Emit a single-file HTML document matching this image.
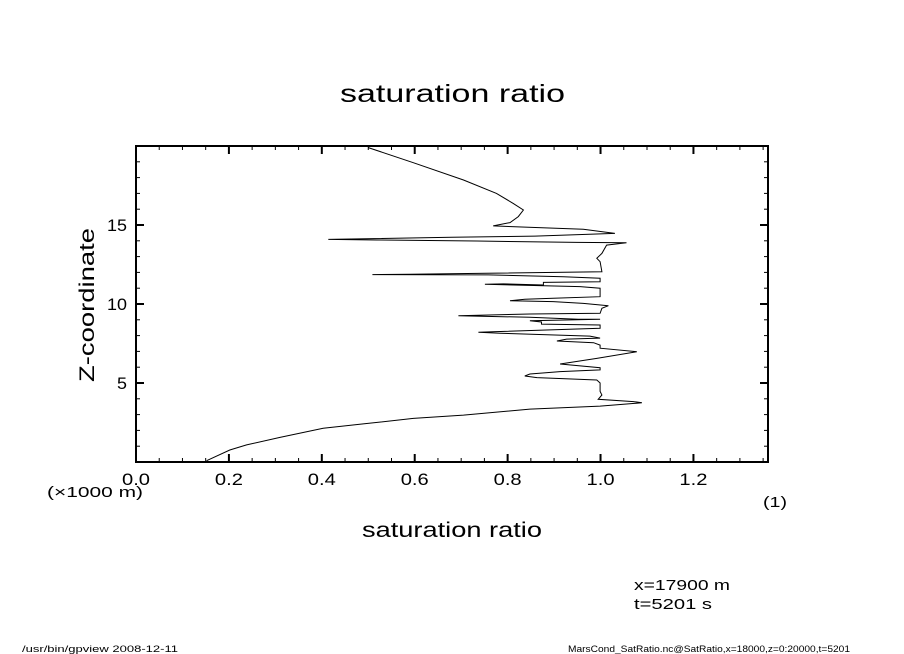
<!DOCTYPE html>
<html><head><meta charset="utf-8"><style>
html,body{margin:0;padding:0;background:#fff;}
svg{display:block;font-family:"Liberation Sans",sans-serif;}
</style></head><body>
<svg id="chart" width="904" height="654" viewBox="0 0 904 654">
<text x="340" y="102" font-size="25" textLength="225" lengthAdjust="spacingAndGlyphs">saturation ratio</text>
<g id="axes"></g>
<text x="362" y="537" font-size="21" textLength="180" lengthAdjust="spacingAndGlyphs">saturation ratio</text>
<text transform="translate(94,382) rotate(-90)" font-size="21" textLength="154" lengthAdjust="spacingAndGlyphs">Z-coordinate</text>
<text x="47" y="497" font-size="15" textLength="96" lengthAdjust="spacingAndGlyphs">(×1000 m)</text>
<text x="763" y="507" font-size="15" textLength="24" lengthAdjust="spacingAndGlyphs">(1)</text>
<text x="634" y="590" font-size="15" textLength="96" lengthAdjust="spacingAndGlyphs">x=17900 m</text>
<text x="634" y="609" font-size="15" textLength="78" lengthAdjust="spacingAndGlyphs">t=5201 s</text>
<text x="22" y="652" font-size="9" textLength="156" lengthAdjust="spacingAndGlyphs">/usr/bin/gpview   2008-12-11</text>
<text x="568" y="652" font-size="9" textLength="282" lengthAdjust="spacingAndGlyphs">MarsCond_SatRatio.nc@SatRatio,x=18000,z=0:20000,t=5201</text>
</svg>
<script>
const zValues=[19.9,18.94,17.85,17.0,16.37,15.95,15.53,15.15,14.94,14.73,14.47,14.30,14.22,14.09,14.05,13.99,13.9,13.88,13.73,13.2,12.89,12.68,12.04,11.94,11.88,11.86,11.84,11.73,11.63,11.41,11.37,11.2,11.27,11.25,11.1,11.0,10.46,10.36,10.3,10.21,10.15,10.04,9.89,9.73,9.41,9.37,9.26,9.16,9.03,9.03,8.94,8.86,8.73,8.67,8.46,8.25,8.21,8.15,7.97,7.84,7.78,7.66,7.55,7.4,7.2,6.98,6.56,6.2,5.97,5.83,5.72,5.57,5.44,5.34,5.19,5.0,4.47,4.24,3.97,3.82,3.75,3.54,3.35,2.97,2.76,2.41,2.13,1.56,1.08,0.76,0.08];
const satValues=[0.50,0.597,0.705,0.776,0.812,0.834,0.823,0.805,0.769,0.963,1.031,0.859,0.68,0.414,0.518,0.733,0.949,1.056,1.013,1.003,0.992,0.999,1.003,0.755,0.59,0.509,0.758,0.92,0.999,0.999,0.877,0.877,0.791,0.751,0.956,0.999,0.999,0.898,0.837,0.805,0.898,0.963,1.017,1.003,0.999,0.848,0.694,0.848,0.952,0.999,0.848,0.873,0.873,0.999,0.999,0.776,0.737,0.784,0.977,0.999,0.927,0.906,0.985,0.999,0.999,1.078,0.992,0.913,0.999,0.999,0.913,0.848,0.837,0.863,0.992,0.999,0.999,1.003,0.995,1.071,1.089,0.999,0.848,0.705,0.597,0.489,0.403,0.31,0.238,0.202,0.152];
const xTickLabels=["0.0","0.2","0.4","0.6","0.8","1.0","1.2"];
const yTickLabels=["5","10","15"];
const NS="http://www.w3.org/2000/svg";
const L=136,R=768,T=146,B=462,XMAX=1.3605,YMAX=20;
const sx=v=>L+v/XMAX*(R-L), sy=v=>B-v/YMAX*(B-T);
const g=document.getElementById('axes');
function mk(tag,attrs){const e=document.createElementNS(NS,tag);for(const k in attrs)e.setAttribute(k,attrs[k]);g.appendChild(e);return e;}
let frame=mk('rect',{x:L,y:T,width:R-L,height:B-T,fill:'none',stroke:'#000','stroke-width':2});


for(let i=0;i*0.05<=XMAX+1e-9;i++){const v=i*0.05,x=sx(v),len=i%4===0?8:4,w=i%4===0?2:1;
 mk('line',{x1:x,x2:x,y1:B,y2:B-len,stroke:'#000','stroke-width':w});
 mk('line',{x1:x,x2:x,y1:T,y2:T+len,stroke:'#000','stroke-width':w});}
for(let i=1;i<YMAX;i++){const y=sy(i),len=i%5===0?8:4,w=i%5===0?2:1;
 mk('line',{x1:L,x2:L+len,y1:y,y2:y,stroke:'#000','stroke-width':w});
 mk('line',{x1:R,x2:R-len,y1:y,y2:y,stroke:'#000','stroke-width':w});}
xTickLabels.forEach(s=>{const t=mk('text',{x:sx(parseFloat(s))-14,y:485,'font-size':17,textLength:28,lengthAdjust:'spacingAndGlyphs'});t.textContent=s;
 
 });
yTickLabels.forEach(s=>{const w=s.length*10;const t=mk('text',{x:127-w,y:sy(parseFloat(s))+6,'font-size':17,textLength:w,lengthAdjust:'spacingAndGlyphs'});t.textContent=s;
 
 });
const pts=zValues.map((z,i)=>sx(satValues[i]).toFixed(1)+','+sy(z).toFixed(1)).join(' ');
const line=mk('polyline',{points:pts,fill:'none',stroke:'#000','stroke-width':1});


</script>
</body></html>
